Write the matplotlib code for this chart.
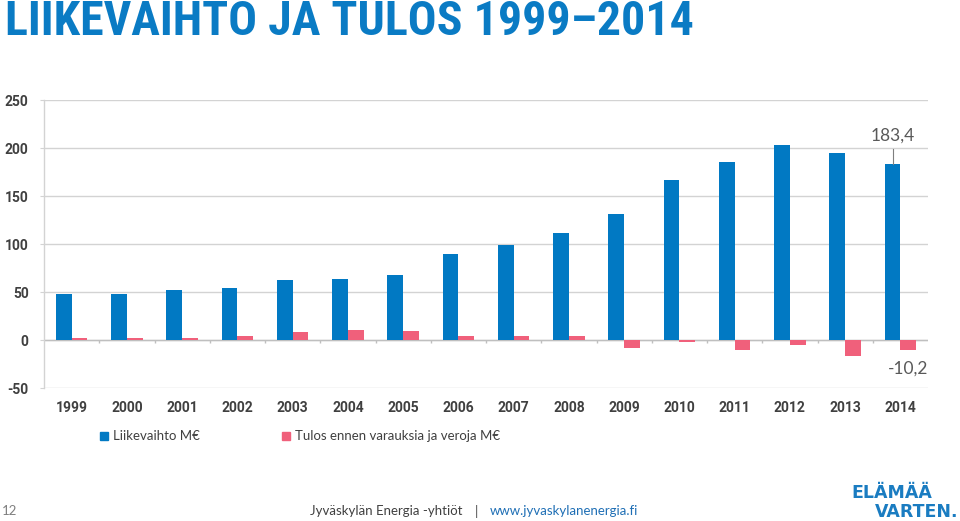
import matplotlib
matplotlib.use("Agg")
import matplotlib.pyplot as plt
from matplotlib.patches import Rectangle
import numpy as np

years = ["1999", "2000", "2001", "2002", "2003", "2004", "2005", "2006",
         "2007", "2008", "2009", "2010", "2011", "2012", "2013", "2014"]
liikevaihto = [48, 48, 52, 54, 62, 64, 68, 90, 99, 111, 131, 167, 185, 203, 195, 183.4]
tulos = [2.4, 2.2, 2.2, 4.0, 8.7, 10.0, 9.4, 3.8, 4.5, 4.2, -8.7, -2.0, -10.4, -4.9, -16.3, -10.2]
yticks = [-50, 0, 50, 100, 150, 200, 250]
series_names = ["Liikevaihto M€", "Tulos ennen varauksia ja veroja M€"]
title = "LIIKEVAIHTO JA TULOS 1999–2014"

BLUE = "#0179C3"
RED = "#F0607B"
GRID = "#D3D3D3"
TXT = "#404040"
TICKFONT = ["Roboto", "DejaVu Sans"]

W, H = 960, 521
fig = plt.figure(figsize=(W / 100, H / 100), dpi=100)

def fx(px):
    return px / W

def fy(py):
    return 1 - py / H

ax = fig.add_axes([fx(44), fy(388), fx(928) - fx(44), fy(100) - fy(388)])
x = np.arange(len(years))
bw = 0.285
ax.bar(x - bw / 2, liikevaihto, width=bw, color=BLUE, zorder=3)
ax.bar(x + bw / 2, tulos, width=bw, color=RED, zorder=3)

ax.set_xlim(-0.5, len(years) - 0.5)
ax.set_ylim(-50, 250)
ax.set_yticks(yticks)
ax.set_yticklabels([str(v) for v in yticks], fontsize=10, fontweight="bold",
                   color=TXT, family=TICKFONT)
ax.set_xticks(x)
ax.set_xticklabels(years, fontsize=10, fontweight="bold", color=TXT, family=TICKFONT)
ax.tick_params(axis="x", length=0, pad=9)
ax.tick_params(axis="y", length=3, color=GRID, pad=8)
ax.grid(axis="y", color=GRID, lw=1, zorder=0)
for s in ["top", "right", "bottom"]:
    ax.spines[s].set_visible(False)
ax.spines["left"].set_color(GRID)
ax.spines["left"].set_linewidth(1)
ax.axhline(0, color="#BFBFBF", lw=1, zorder=2)
# category boundary tick marks on the zero line
ax.vlines(np.arange(len(years) - 1) + 0.5, -3, 0, color="#BFBFBF", lw=1, zorder=2)

def fmt(v):
    return f"{v:.1f}".replace(".", ",")

# data labels for last year
bx = x[-1] - bw / 2
ax.plot([bx, bx], [liikevaihto[-1], liikevaihto[-1] + 16], color="#7F7F7F", lw=0.8, zorder=4)
ax.text(bx, liikevaihto[-1] + 29, fmt(liikevaihto[-1]), ha="center", va="center",
        fontsize=12.5, color="#595959", family=["Lato", "DejaVu Sans"])
rx = x[-1] + bw / 2
ax.text(rx, tulos[-1] - 20, fmt(tulos[-1]), ha="center", va="center",
        fontsize=12.5, color="#595959", family=["Lato", "DejaVu Sans"])

# title
fig.text(fx(5), fy(35), title, ha="left", va="baseline", fontsize=34.5, fontweight="bold",
         fontstretch="condensed", color="#0A7BC4",
         family=["Roboto Condensed", "DejaVu Sans Condensed", "Roboto", "DejaVu Sans"])

# legend
for px, name, col in [(100, series_names[0], BLUE), (282, series_names[1], RED)]:
    fig.patches.append(Rectangle((fx(px), fy(440)), fx(8), 8 / H, transform=fig.transFigure,
                                 color=col, figure=fig))
    fig.text(fx(px + 13), fy(436.5), name, ha="left", va="center", fontsize=9.5,
             color="#404040", family=["Lato", "DejaVu Sans"])

# footer
fig.text(fx(2), fy(511), "12", ha="left", va="center", fontsize=9.5, color="#7F7F7F",
         family=["Lato", "DejaVu Sans"])
fig.text(fx(463), fy(511), "Jyväskylän Energia -yhtiöt", ha="right", va="center",
         fontsize=9.5, color="#404040", family=["Lato", "DejaVu Sans"])
fig.text(fx(476), fy(511), "|", ha="center", va="center", fontsize=9.5, color="#404040",
         family=["Lato", "DejaVu Sans"])
fig.text(fx(490), fy(511), "www.jyvaskylanenergia.fi", ha="left", va="center",
         fontsize=9.5, color="#1F6FB5", family=["Lato", "DejaVu Sans"])
fig.text(fx(932), fy(498), "ELÄMÄÄ", ha="right", va="baseline", fontsize=12.5,
         fontweight="bold", color="#1A7CC1", family=["DejaVu Sans"])
fig.text(fx(958), fy(517), "VARTEN.", ha="right", va="baseline", fontsize=12.5,
         fontweight="bold", color="#1A7CC1", family=["DejaVu Sans"])

fig.savefig("out.png", dpi=100)
